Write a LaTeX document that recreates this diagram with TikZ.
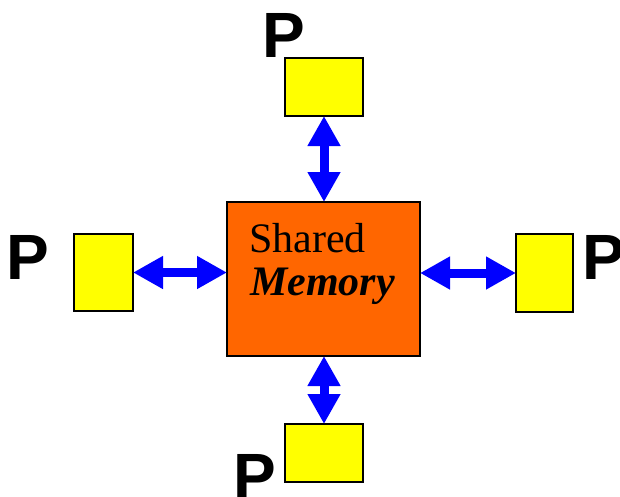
\documentclass[tikz,border=0pt]{standalone}
\usepackage{fontspec}
\setmainfont{Liberation Serif}
\newfontfamily\plabelfont{Liberation Sans}
\usetikzlibrary{arrows.meta}
\definecolor{memorange}{HTML}{FF6600}
\definecolor{procyellow}{HTML}{FFFF00}
\definecolor{linkblue}{HTML}{0000FF}
\tikzset{
  procbox/.style={draw=black, line width=1.3pt, fill=procyellow, inner sep=0pt, outer sep=0pt},
  membox/.style={draw=black, line width=1.3pt, fill=memorange, inner sep=0pt, outer sep=0pt, minimum width=193pt, minimum height=154pt},
  plabel/.style={anchor=base west, inner sep=0pt, font=\plabelfont\bfseries\fontsize{64}{64}\selectfont},
  memtext/.style={anchor=base west, inner sep=0pt, font=\fontsize{42}{42}\selectfont},
  link/.style={draw=linkblue, line width=9pt, {Triangle[length=30pt,width=31pt]}-{Triangle[length=30pt,width=31pt]}}
}
\begin{document}
\begin{tikzpicture}[x=1pt,y=-1pt]
\useasboundingbox (0,0) rectangle (620,496);
\node[membox] (mem) at (323.5,279) {};
\node[procbox, minimum width=78pt, minimum height=58pt] (ptop) at (324,87) {};
\node[procbox, minimum width=59pt, minimum height=77pt] (pleft) at (103.5,272.5) {};
\node[procbox, minimum width=57pt, minimum height=78pt] (pright) at (544.5,273) {};
\node[procbox, minimum width=78pt, minimum height=58pt] (pbot) at (324,453) {};
\node[memtext] (shared) at (249,252) {Shared};
\node[memtext, font=\fontsize{42}{42}\selectfont\bfseries\itshape] (memory) at (250,295) {Memory};
\node[plabel] (ltop) at (262,57) {P};
\node[plabel] (lleft) at (6,279) {P};
\node[plabel] (lright) at (582,279) {P};
\node[plabel] (lbot) at (233,498) {P};
\draw[link] (ptop.south) -- (ptop.south |- mem.north);
\draw[link] (pbot.north) -- (pbot.north |- mem.south);
\draw[link] (pleft.east) -- (pleft.east -| mem.west);
\draw[link] (pright.west) -- (pright.west -| mem.east);
\end{tikzpicture}
\end{document}
